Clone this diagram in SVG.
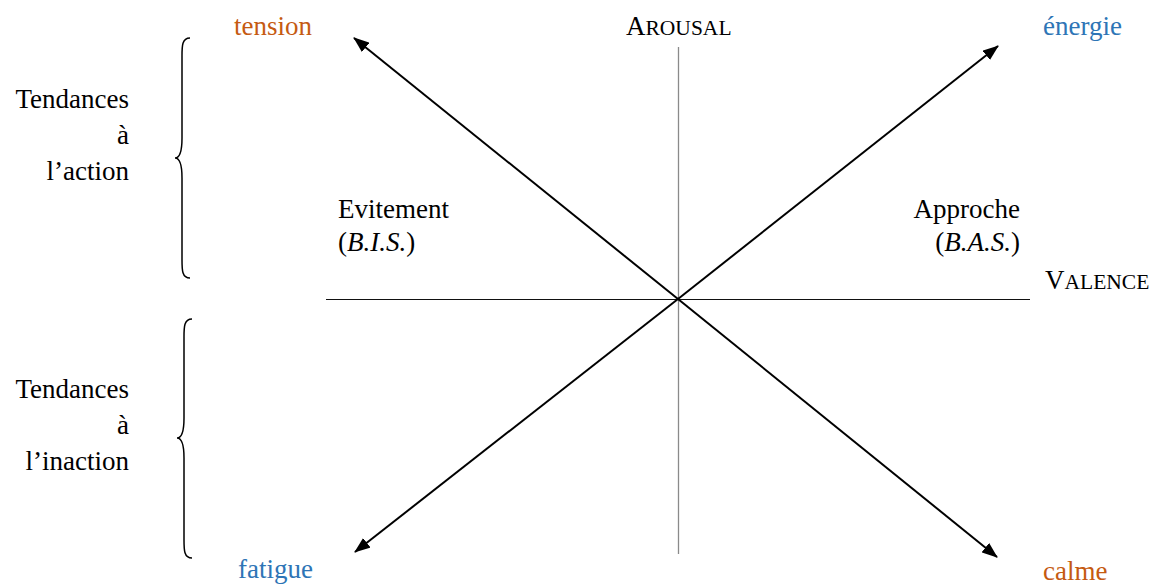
<svg xmlns="http://www.w3.org/2000/svg" width="1155" height="585" viewBox="0 0 1155 585">
<style>
text{font-family:'Liberation Serif', 'Times New Roman', serif;font-size:27px;fill:#000}
.o{fill:#C55A11}
.b{fill:#2E75B6}
.sc{font-size:21.5px}
.axv{stroke:#8a8a8a;stroke-width:1.3;fill:none}
.axh{stroke:#111;stroke-width:1.2;fill:none}
.ar{stroke:#000;stroke-width:2;fill:none;marker-end:url(#ah)}
.br{stroke:#000;stroke-width:1.5;fill:none}
.r{text-anchor:end}
</style>
<defs>
<marker id="ah" viewBox="0 0 16 12" refX="15" refY="6" markerWidth="16" markerHeight="12" orient="auto" markerUnits="userSpaceOnUse">
<path d="M0,0 L16,6 L0,12 z" fill="#000"/>
</marker>
</defs>
<rect width="1155" height="585" fill="#fff"/>
<g id="connectors">
<line class="axv" x1="678.5" y1="47" x2="678.5" y2="554"/>
<line class="axh" x1="326" y1="299.5" x2="1030" y2="299.5"/>
<line class="ar" x1="678" y1="299" x2="354" y2="38"/>
<line class="ar" x1="678" y1="299" x2="998" y2="46"/>
<line class="ar" x1="678" y1="299" x2="355" y2="552"/>
<line class="ar" x1="678" y1="299" x2="997" y2="557"/>
</g>
<g id="brace-action">
<path class="br" d="M190,38 C182,38 182,46 182,56 L182,138 C182,150 180,158 175,158 C180,158 182,166 182,178 L182,260 C182,270 182,278 190,278"/>
</g>
<g id="brace-inaction">
<path class="br" d="M192,319 C184,319 184,327 184,337 L184,418 C184,430 182,438 177,438 C182,438 184,446 184,458 L184,540 C184,550 184,558 192,558"/>
</g>
<g id="label-tension"><text class="o" x="234" y="35">tension</text></g>
<g id="label-arousal"><text x="626" y="35">A<tspan class="sc">ROUSAL</tspan></text></g>
<g id="label-energie"><text class="b" x="1043" y="35">énergie</text></g>
<g id="label-valence"><text x="1045" y="289">V<tspan class="sc">ALENCE</tspan></text></g>
<g id="label-approche">
<text class="r" x="1020" y="218">Approche</text>
<text class="r" x="1020" y="251">(<tspan font-style="italic">B.A.S.</tspan>)</text>
</g>
<g id="label-evitement">
<text x="338" y="218">Evitement</text>
<text x="338" y="251">(<tspan font-style="italic">B.I.S.</tspan>)</text>
</g>
<g id="label-action">
<text class="r" x="129" y="108">Tendances</text>
<text class="r" x="129" y="144">à</text>
<text class="r" x="129" y="180">l’action</text>
</g>
<g id="label-inaction">
<text class="r" x="129" y="398">Tendances</text>
<text class="r" x="129" y="434">à</text>
<text class="r" x="129" y="470">l’inaction</text>
</g>
<g id="label-fatigue"><text class="b" x="238" y="578">fatigue</text></g>
<g id="label-calme"><text class="o" x="1043" y="580">calme</text></g>
</svg>
